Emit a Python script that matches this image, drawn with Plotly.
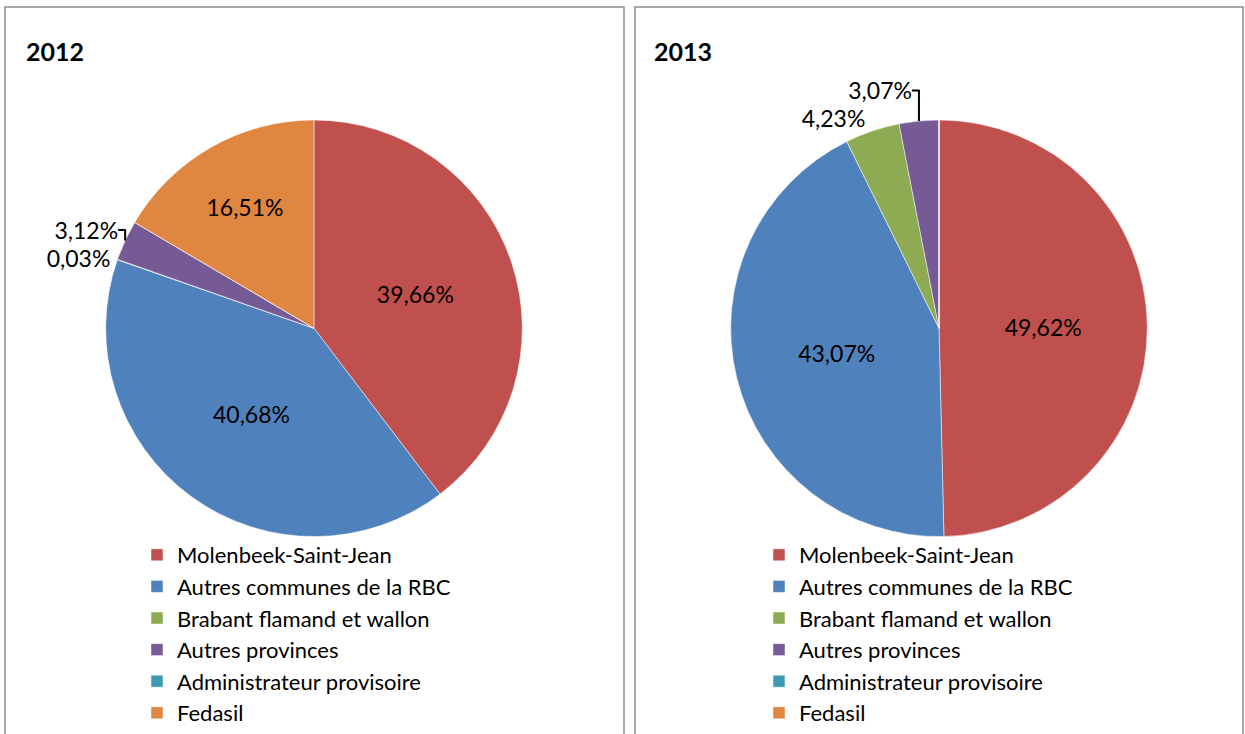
import plotly.graph_objects as go

categories = ["Molenbeek-Saint-Jean", "Autres communes de la RBC", "Brabant flamand et wallon",
              "Autres provinces", "Administrateur provisoire", "Fedasil"]
values_2012 = [39.66, 40.68, 0.03, 3.12, 0.0, 16.51]
values_2013 = [49.62, 43.07, 4.23, 3.07, 0.0, 0.0]
years = ["2012", "2013"]

colors = ["#C0504D", "#4F81BD", "#8EAA52", "#765A95", "#3E9AB0", "#DF8640"]
FONT = "Lato"
W, H = 1245, 734


def fmt(v):
    return ("%.2f%%" % v).replace(".", ",") if v > 0 else ""


def positions(vals):
    return ["inside" if v >= 10 else "outside" for v in vals]


# second pie gets invisibly distinct labels so that it owns its own legend entries
labels_2013 = [c + "\u200b" for c in categories]

fig = go.Figure()

fig.add_trace(go.Pie(
    labels=categories, values=values_2012, sort=False, direction="clockwise", rotation=0,
    marker=dict(colors=colors, line=dict(color="white", width=0.5)),
    text=[fmt(v) for v in values_2012], textinfo="text", textposition=positions(values_2012),
    insidetextorientation="horizontal",
    textfont=dict(family=FONT, size=23, color="black"),
    domain=dict(x=[102.5 / W, 525.5 / W], y=[1 - 545.5 / H, 1 - 122 / H]),
    legend="legend", showlegend=True, hoverinfo="label+percent",
))
fig.add_trace(go.Pie(
    labels=labels_2013, values=values_2013, sort=False, direction="clockwise", rotation=0,
    marker=dict(colors=colors, line=dict(color="white", width=0.5)),
    text=[fmt(v) for v in values_2013], textinfo="text", textposition=positions(values_2013),
    insidetextorientation="horizontal",
    textfont=dict(family=FONT, size=23, color="black"),
    domain=dict(x=[727.5 / W, 1150.5 / W], y=[1 - 545.5 / H, 1 - 122 / H]),
    legend="legend2", showlegend=True, hoverinfo="label+percent",
))

legend_common = dict(font=dict(family=FONT, size=22, color="black"), bgcolor="rgba(0,0,0,0)",
                     xanchor="left", yanchor="top", traceorder="normal")

fig.update_layout(
    width=W, height=H,
    margin=dict(l=0, r=0, t=0, b=0),
    paper_bgcolor="white", plot_bgcolor="white",
    font=dict(family=FONT),
    legend=dict(x=137 / W, y=1 - 543 / H, **legend_common),
    legend2=dict(x=759 / W, y=1 - 543 / H, **legend_common),
    shapes=[
        dict(type="rect", xref="paper", yref="paper", x0=5 / W, x1=624 / W, y0=-0.05, y1=1 - 7 / H,
             line=dict(color="#8c8c8c", width=1.5), fillcolor="rgba(0,0,0,0)"),
        dict(type="rect", xref="paper", yref="paper", x0=635 / W, x1=1243 / W, y0=-0.05, y1=1 - 7 / H,
             line=dict(color="#8c8c8c", width=1.5), fillcolor="rgba(0,0,0,0)"),
    ],
    annotations=[
        dict(text="<b>%s</b>" % years[0], xref="paper", yref="paper", x=24 / W, y=1 - 52 / H,
             xanchor="left", yanchor="middle", showarrow=False, font=dict(family=FONT, size=25, color="black")),
        dict(text="<b>%s</b>" % years[1], xref="paper", yref="paper", x=652 / W, y=1 - 52 / H,
             xanchor="left", yanchor="middle", showarrow=False, font=dict(family=FONT, size=25, color="black")),
    ],
)

fig.write_html("out.html", config={"displayModeBar": False},
               post_script="document.body.style.margin='0';")
